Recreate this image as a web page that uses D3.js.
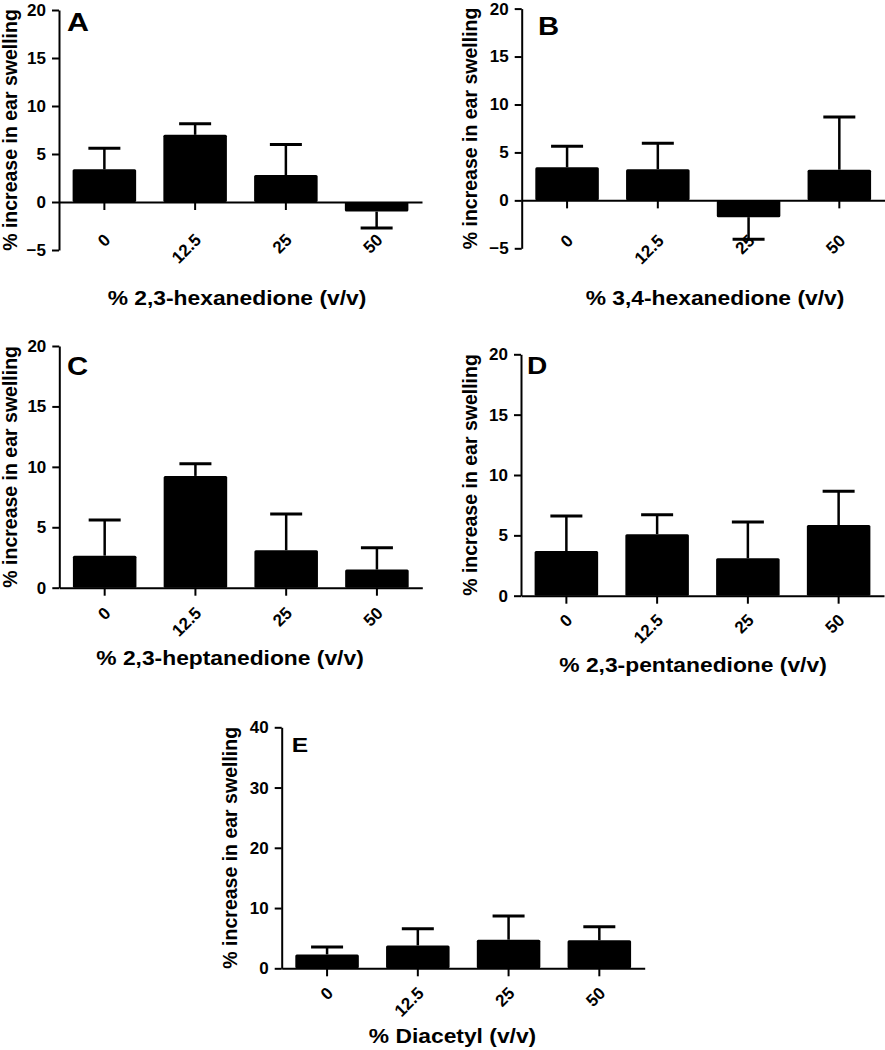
<!DOCTYPE html>
<html><head><meta charset="utf-8">
<script src="https://cdn.jsdelivr.net/npm/d3@7"></script>
<style>
body{margin:0;background:#fff}
svg text{font-family:"Liberation Sans",Arial,Helvetica,sans-serif;font-weight:bold;fill:#000}
</style>
</head><body>
<svg id="chart" width="885" height="1050"></svg>
<script>
// ---------- data ----------
const categories = ["0", "12.5", "25", "50"];

const meanA = [3.4, 7.0, 2.8, -1.0];
const semA  = [2.2, 1.15, 3.2, 1.7];

const meanB = [3.45, 3.25, -1.75, 3.2];
const semB  = [2.2, 2.7, 2.3, 5.5];

const meanC = [2.65, 9.25, 3.1, 1.5];
const semC  = [2.95, 1.0, 3.0, 1.8];

const meanD = [3.7, 5.1, 3.1, 5.85];
const semD  = [2.9, 1.6, 3.0, 2.8];

const meanE = [2.3, 3.8, 4.75, 4.65];
const semE  = [1.25, 2.75, 3.95, 2.25];

const yTicksNeg = [-5, 0, 5, 10, 15, 20];
const yTicksPos = [0, 5, 10, 15, 20];
const yTicksE   = [0, 10, 20, 30, 40];

const panelLetters = ["A", "B", "C", "D", "E"];
const xTitles = [
  "% 2,3-hexanedione (v/v)",
  "% 3,4-hexanedione (v/v)",
  "% 2,3-heptanedione (v/v)",
  "% 2,3-pentanedione (v/v)",
  "% Diacetyl (v/v)"
];
const yTitle = "% increase in ear swelling";

// ---------- layout ----------
const layouts = [
  {ax: 59,    yd: [-5, 20], yr: [250, 10],      ticks: yTicksNeg, letter: [67, 31, 26],   title: [237, 305],   off: 38,   ylx: 17},
  {ax: 521.7, yd: [-5, 20], yr: [248.3, 8.6],   ticks: yTicksNeg, letter: [538, 35, 25],  title: [715, 305],   off: 40.5, ylx: 477},
  {ax: 59.3,  yd: [0, 20],  yr: [587.7, 346],   ticks: yTicksPos, letter: [67, 375, 25],  title: [230, 665],   off: 25.5, ylx: 17},
  {ax: 521,   yd: [0, 20],  yr: [595.7, 354.3], ticks: yTicksPos, letter: [527, 374, 24], title: [693, 672],   off: 24.5, ylx: 477},
  {ax: 281.7, yd: [0, 40],  yr: [968.3, 727.3], ticks: yTicksE,   letter: [291.7, 752, 21], title: [452.5, 1043], off: 25, ylx: 237}
];
const meansAll = [meanA, meanB, meanC, meanD, meanE];
const semsAll  = [semA, semB, semC, semD, semE];

const svg = d3.select("#chart");
const STRETCH = 1.17;
const axisW = 363;

layouts.forEach((L, i) => {
  const means = meansAll[i], sems = semsAll[i];
  const data = categories.map((c, k) => ({c, m: means[k], s: sems[k]}));
  const g = svg.append("g");

  const x = d3.scaleBand().domain(categories).range([L.ax, L.ax + axisW])
    .paddingInner(0.3).paddingOuter(0.15);
  const y = d3.scaleLinear().domain(L.yd).range(L.yr);

  // y axis
  const ya = g.append("g").attr("transform", `translate(${L.ax},0)`)
    .call(d3.axisLeft(y).tickValues(L.ticks).tickSize(7).tickPadding(6).tickSizeOuter(0));
  ya.selectAll("path,line").attr("stroke", "#000").attr("stroke-width", 2);
  ya.selectAll("text").attr("font-size", 17).attr("font-family", null).attr("fill", "#000");

  // x axis
  const xa = g.append("g").attr("transform", `translate(0,${y(0)})`)
    .call(d3.axisBottom(x).tickSize(8).tickSizeOuter(0).tickFormat(""));
  xa.selectAll("path,line").attr("stroke", "#000").attr("stroke-width", 2);
  xa.selectAll("text").remove();

  // rotated category labels
  g.selectAll("text.cat").data(data).join("text").attr("class", "cat")
    .attr("transform", d => `translate(${x(d.c) + x.bandwidth() / 2 + 7},${y(0) + L.off + 1}) rotate(-45)`)
    .attr("text-anchor", "end").attr("font-size", 17).text(d => d.c);

  // bars
  g.selectAll("rect.bar").data(data).join("rect").attr("class", "bar")
    .attr("x", d => x(d.c)).attr("width", x.bandwidth())
    .attr("y", d => Math.min(y(d.m), y(0))).attr("height", d => Math.abs(y(d.m) - y(0)))
    .attr("rx", 1.5).attr("fill", "#000");

  // error bars (one-sided, away from zero)
  const end = d => d.m >= 0 ? d.m + d.s : d.m - d.s;
  g.selectAll("line.stem").data(data).join("line").attr("class", "stem")
    .attr("x1", d => x(d.c) + x.bandwidth() / 2).attr("x2", d => x(d.c) + x.bandwidth() / 2)
    .attr("y1", d => y(d.m)).attr("y2", d => y(end(d)))
    .attr("stroke", "#000").attr("stroke-width", 2.5);
  g.selectAll("line.cap").data(data).join("line").attr("class", "cap")
    .attr("x1", d => x(d.c) + x.bandwidth() / 2 - 16).attr("x2", d => x(d.c) + x.bandwidth() / 2 + 16)
    .attr("y1", d => y(end(d))).attr("y2", d => y(end(d)))
    .attr("stroke", "#000").attr("stroke-width", 3);

  // panel letter
  g.append("text")
    .attr("transform", `translate(${L.letter[0]},${L.letter[1]}) scale(${STRETCH},1)`)
    .attr("font-size", L.letter[2]).text(panelLetters[i]);

  // x title
  g.append("text")
    .attr("transform", `translate(${L.title[0]},${L.title[1]}) scale(${STRETCH},1)`)
    .attr("text-anchor", "middle").attr("font-size", 19.5).text(xTitles[i]);

  // y title
  const ymid = (L.yr[0] + L.yr[1]) / 2;
  g.append("text")
    .attr("transform", `translate(${L.ylx},${ymid}) rotate(-90)`)
    .attr("text-anchor", "middle").attr("font-size", 19.5).text(yTitle);
});
</script>
</body></html>
